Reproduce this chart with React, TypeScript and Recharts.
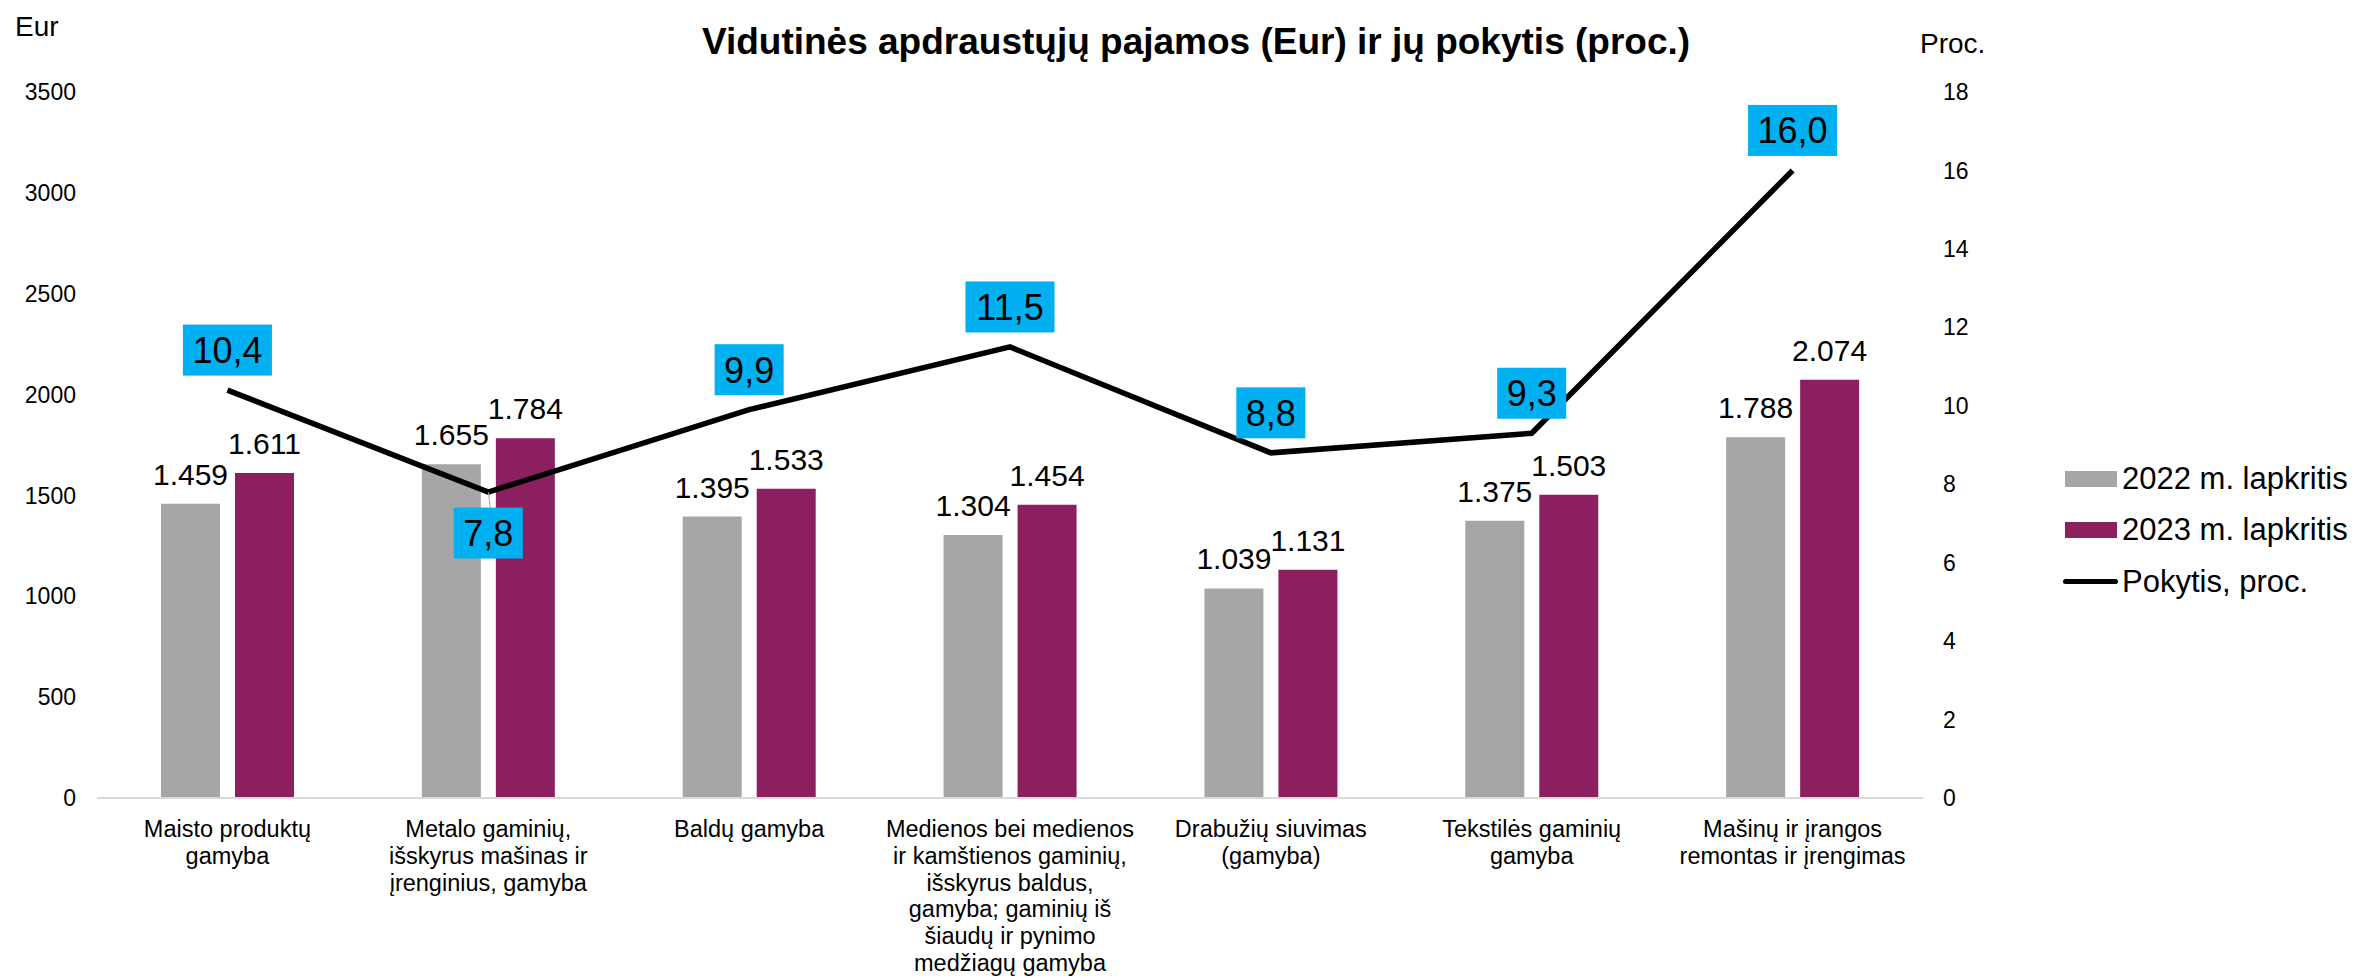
import React from 'react'
import { Bar, ComposedChart, LabelList, Legend, Line, XAxis, YAxis } from 'recharts'

const FONT = '"Liberation Sans", Arial, sans-serif'

const categories = [
    ['Maisto produktų', 'gamyba'],
    ['Metalo gaminių,', 'išskyrus mašinas ir', 'įrenginius, gamyba'],
    ['Baldų gamyba'],
    [
        'Medienos bei medienos',
        'ir kamštienos gaminių,',
        'išskyrus baldus,',
        'gamyba; gaminių iš',
        'šiaudų ir pynimo',
        'medžiagų gamyba'
    ],
    ['Drabužių siuvimas', '(gamyba)'],
    ['Tekstilės gaminių', 'gamyba'],
    ['Mašinų ir įrangos', 'remontas ir įrengimas']
]
const earnings2022 = [1459, 1655, 1395, 1304, 1039, 1375, 1788]
const earnings2023 = [1611, 1784, 1533, 1454, 1131, 1503, 2074]
const changePct = [10.4, 7.8, 9.9, 11.5, 8.8, 9.3, 16.0]
const eurTicks = [0, 500, 1000, 1500, 2000, 2500, 3000, 3500]
const pctTicks = [0, 2, 4, 6, 8, 10, 12, 14, 16, 18]
const seriesNames = ['2022 m. lapkritis', '2023 m. lapkritis', 'Pokytis, proc.']

const GRAY = '#A6A6A6'
const PURPLE = '#8B1F5F'
const BOX = '#00B0F0'

const data = categories.map((lines, i) => ({
    name: lines.join(' '),
    y2022: earnings2022[i],
    y2023: earnings2023[i],
    change: changePct[i]
}))

const linesByName: Record<string, string[]> = {}
categories.forEach((lines) => {
    linesByName[lines.join(' ')] = lines
})

// 1459 -> "1.459"
const fmtEur = (v: any) => {
    const n = Number(v)
    const th = Math.floor(n / 1000)
    const rest = String(n % 1000).padStart(3, '0')
    return th > 0 ? `${th}.${rest}` : String(n)
}

const fmtPct = (v: number) => v.toFixed(1).replace('.', ',')

const CategoryTick = (props: any) => {
    const { x, y, payload } = props
    const lines = linesByName[payload.value] ?? [payload.value]
    return (
        <text
            x={x}
            y={y}
            textAnchor={'middle'}
            fontSize={23.5}
            fontFamily={FONT}
            fill={'#000'}
        >
            {lines.map((l, i) => (
                <tspan key={i} x={x} dy={i === 0 ? 31 : 26.8}>
                    {l}
                </tspan>
            ))}
        </text>
    )
}

// blue boxes with the change value
const ChangeBox = (props: any) => {
    const { cx, cy, index, payload } = props
    if (cx == null || cy == null) return <g key={`box-${index}`} />
    const text = fmtPct(payload.change)
    const fs = 36
    let em = 0
    for (const ch of text) em += ch === ',' ? 0.278 : 0.556
    const w = em * fs + 19
    const h = 51
    const below = index === 1
    const centerY = below ? cy + 41 : cy - 40
    return (
        <g key={`box-${index}`}>
            {below && (
                <line
                    x1={cx}
                    y1={cy}
                    x2={cx + 2}
                    y2={centerY - h / 2}
                    stroke={'#A6A6A6'}
                    strokeWidth={1}
                />
            )}
            <rect x={cx - w / 2} y={centerY - h / 2} width={w} height={h} fill={BOX} />
            <text
                x={cx}
                y={centerY}
                dy={'0.36em'}
                textAnchor={'middle'}
                fontSize={fs}
                fontFamily={FONT}
                fill={'#000'}
            >
                {text}
            </text>
        </g>
    )
}

const LegendContent = (props: any) => {
    const items = props.payload ?? []
    return (
        <div style={{ fontFamily: FONT, fontSize: 31, color: '#000' }}>
            {items.map((item: any, i: number) => (
                <div
                    key={i}
                    style={{ display: 'flex', alignItems: 'center', height: 51.5, whiteSpace: 'nowrap' }}
                >
                    {item.type === 'line' ? (
                        <div
                            style={{
                                width: 55,
                                height: 5,
                                borderRadius: 3,
                                background: item.color,
                                marginLeft: -2,
                                marginRight: 4
                            }}
                        />
                    ) : (
                        <div style={{ width: 52, height: 16, background: item.color, marginRight: 5 }} />
                    )}
                    <span>{item.value}</span>
                </div>
            ))}
        </div>
    )
}

const App: React.FC = () => (
    <div
        style={{
            position: 'absolute',
            left: 0,
            top: 0,
            width: 2364,
            height: 978,
            background: '#fff',
            fontFamily: FONT
        }}
    >
        <div
            style={{
                position: 'absolute',
                left: 1196,
                top: 23,
                transform: 'translateX(-50%)',
                fontSize: 37,
                lineHeight: 1,
                fontWeight: 'bold',
                whiteSpace: 'nowrap',
                color: '#000'
            }}
        >
            Vidutinės apdraustųjų pajamos (Eur) ir jų pokytis (proc.)
        </div>
        <div style={{ position: 'absolute', left: 15, top: 13, fontSize: 28, lineHeight: 1 }}>Eur</div>
        <div style={{ position: 'absolute', left: 1920, top: 30, fontSize: 28, lineHeight: 1 }}>Proc.</div>
        <ComposedChart
            width={2364}
            height={978}
            data={data}
            margin={{ top: 92, right: 341, bottom: 0, left: 0 }}
            barGap={15}
        >
            <XAxis
                dataKey={'name'}
                height={180}
                tickLine={false}
                axisLine={{ stroke: '#D9D9D9', strokeWidth: 2 }}
                tick={<CategoryTick />}
                interval={0}
            />
            <YAxis
                yAxisId={'eur'}
                width={97}
                domain={[0, 3500]}
                ticks={eurTicks}
                tickLine={false}
                axisLine={false}
                tickMargin={15}
                tick={{ fill: '#000', fontSize: 23, fontFamily: FONT }}
            />
            <YAxis
                yAxisId={'pct'}
                orientation={'right'}
                width={100}
                domain={[0, 18]}
                ticks={pctTicks}
                tickLine={false}
                axisLine={false}
                tickMargin={14}
                tick={{ fill: '#000', fontSize: 23, fontFamily: FONT, textAnchor: 'start' }}
            />
            <Legend
                layout={'vertical'}
                align={'center'}
                verticalAlign={'middle'}
                content={<LegendContent />}
                wrapperStyle={{ left: 2065, top: 453, width: 300, height: 160 }}
            />
            <Bar
                yAxisId={'eur'}
                dataKey={'y2022'}
                name={seriesNames[0]}
                fill={GRAY}
                barSize={59}
                isAnimationActive={false}
            >
                <LabelList
                    dataKey={'y2022'}
                    position={'top'}
                    offset={19}
                    formatter={fmtEur}
                    fill={'#000'}
                    fontSize={30}
                    fontFamily={FONT}
                />
            </Bar>
            <Bar
                yAxisId={'eur'}
                dataKey={'y2023'}
                name={seriesNames[1]}
                fill={PURPLE}
                barSize={59}
                isAnimationActive={false}
            >
                <LabelList
                    dataKey={'y2023'}
                    position={'top'}
                    offset={19}
                    formatter={fmtEur}
                    fill={'#000'}
                    fontSize={30}
                    fontFamily={FONT}
                />
            </Bar>
            <Line
                yAxisId={'pct'}
                dataKey={'change'}
                name={seriesNames[2]}
                stroke={'#000'}
                strokeWidth={5.5}
                dot={ChangeBox}
                activeDot={false}
                legendType={'line'}
                isAnimationActive={false}
            />
        </ComposedChart>
    </div>
)

export default App
